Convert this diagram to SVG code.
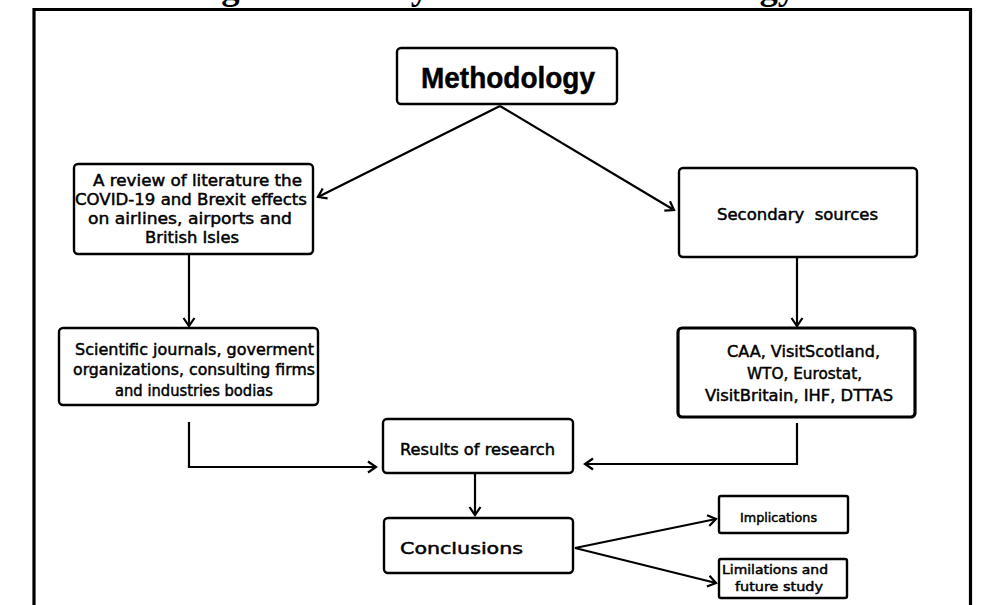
<svg xmlns="http://www.w3.org/2000/svg" width="985" height="605" viewBox="0 0 985 605">
<defs>
<marker id="ah" markerUnits="userSpaceOnUse" markerWidth="14" markerHeight="14" viewBox="0 0 14 14" refX="11" refY="7" orient="auto">
<path d="M3,1.5 L11,7 L3,12.5" fill="none" stroke="#000" stroke-width="2.2" stroke-linejoin="miter"/>
</marker>
<style>
.box{fill:#fff;stroke:#000;stroke-width:2.4}
.thick{stroke-width:3.2}
.t{font-family:"DejaVu Sans","Liberation Sans",sans-serif;font-size:15px;fill:#000;stroke:#000;stroke-width:0.45;text-anchor:middle}
.s{font-size:12px}
.c{fill:none;stroke:#000;stroke-width:2.2}
</style>
</defs>
<rect width="985" height="605" fill="#fff"/>
<text x="496" y="-1.5" font-family="Liberation Serif, serif" font-weight="bold" font-size="36.6" text-anchor="middle">Figure 3. Study Research Methodology.</text>
<path d="M34,640 L34,9.5 L970.5,9.5 L970.5,640" fill="none" stroke="#000" stroke-width="3.2"/>

<g id="connectors">
<path class="c" d="M500,106 L318,197" marker-end="url(#ah)"/>
<path class="c" d="M500,106 L674,210" marker-end="url(#ah)"/>
<path class="c" d="M189,254 L189,326" marker-end="url(#ah)"/>
<path class="c" d="M797,257 L797,326" marker-end="url(#ah)"/>
<path class="c" d="M189,422 L189,467 L376,467" marker-end="url(#ah)"/>
<path class="c" d="M797,423 L797,464 L585,464" marker-end="url(#ah)"/>
<path class="c" d="M475,473 L475,515" marker-end="url(#ah)"/>
<path class="c" d="M575,548 L716,519" marker-end="url(#ah)"/>
<path class="c" d="M575,548 L716,583" marker-end="url(#ah)"/>
</g>

<g id="methodology">
<rect class="box" x="397" y="48" width="220" height="56" rx="4"/>
<text class="t" x="508" y="88" font-weight="bold" textLength="174" lengthAdjust="spacingAndGlyphs" style="font-family:'Liberation Sans Narrow','Liberation Sans',sans-serif;font-size:30px">Methodology</text>
</g>

<g id="literature-review">
<rect class="box" x="74" y="164" width="239" height="90" rx="4"/>
<text class="t" x="197.5" y="186" textLength="209" lengthAdjust="spacingAndGlyphs">A review of literature the</text>
<text class="t" x="191" y="205" textLength="232" lengthAdjust="spacingAndGlyphs">COVID-19 and Brexit effects</text>
<text class="t" x="190" y="224" textLength="204" lengthAdjust="spacingAndGlyphs">on airlines, airports and</text>
<text class="t" x="192" y="243" textLength="94" lengthAdjust="spacingAndGlyphs">British Isles</text>
</g>

<g id="scientific-sources">
<rect class="box" x="59" y="328" width="259" height="77" rx="4"/>
<text class="t" x="194.5" y="355" textLength="239" lengthAdjust="spacingAndGlyphs">Scientific journals, goverment</text>
<text class="t" x="194" y="375" textLength="242" lengthAdjust="spacingAndGlyphs">organizations, consulting firms</text>
<text class="t" x="194" y="396" textLength="158" lengthAdjust="spacingAndGlyphs">and industries bodias</text>
</g>

<g id="secondary-sources">
<rect class="box" x="679" y="168" width="238" height="89" rx="4"/>
<text class="t" x="797.5" y="220" textLength="161" lengthAdjust="spacingAndGlyphs" xml:space="preserve">Secondary  sources</text>
</g>

<g id="data-sources">
<rect class="box thick" x="678" y="328" width="237" height="89" rx="4"/>
<text class="t" x="803.5" y="357" textLength="153" lengthAdjust="spacingAndGlyphs">CAA, VisitScotland,</text>
<text class="t" x="804.5" y="379" textLength="115" lengthAdjust="spacingAndGlyphs">WTO, Eurostat,</text>
<text class="t" x="799" y="401" textLength="188" lengthAdjust="spacingAndGlyphs">VisitBritain, IHF, DTTAS</text>
</g>

<g id="results">
<rect class="box" x="383" y="419" width="190" height="54" rx="4"/>
<text class="t" x="477.5" y="455" textLength="155" lengthAdjust="spacingAndGlyphs">Results of research</text>
</g>

<g id="conclusions">
<rect class="box" x="384" y="518" width="189" height="55" rx="4"/>
<text class="t" x="461.5" y="554" textLength="123" lengthAdjust="spacingAndGlyphs">Conclusions</text>
</g>

<g id="implications">
<rect class="box" x="719" y="496" width="129" height="37" rx="2"/>
<text class="t s" x="778.5" y="522" textLength="77" lengthAdjust="spacingAndGlyphs">Implications</text>
</g>

<g id="limitations">
<rect class="box" x="719" y="559" width="128" height="39" rx="2"/>
<text class="t s" x="775" y="574" textLength="106" lengthAdjust="spacingAndGlyphs">Limilations and</text>
<text class="t s" x="779" y="591" textLength="88" lengthAdjust="spacingAndGlyphs">future study</text>
</g>
</svg>
